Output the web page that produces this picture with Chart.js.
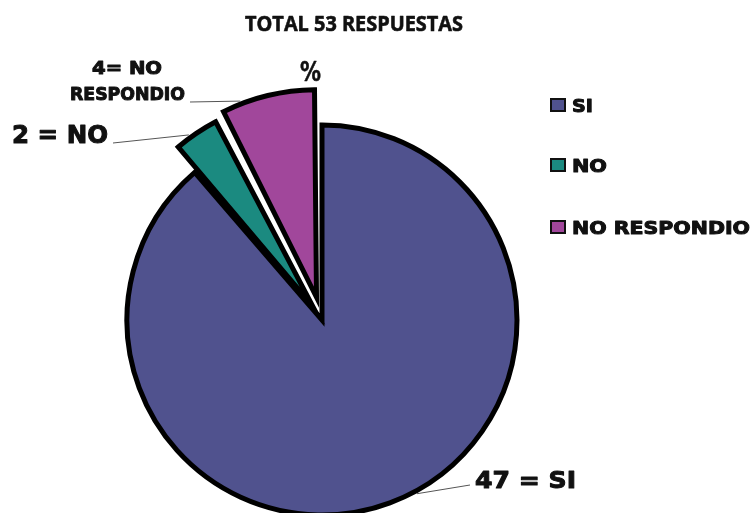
<!DOCTYPE html>
<html>
<head>
<meta charset="utf-8">
<script src="https://cdn.jsdelivr.net/npm/chart.js@4.4.1/dist/chart.umd.min.js"></script>
<style>
  html, body { margin: 0; padding: 0; background: #ffffff; }
  #wrap { width: 754px; height: 513px; }
</style>
</head>
<body>
<div id="wrap"><canvas id="pieChart" width="754" height="513"></canvas></div>
<script>
const categories = ["SI", "NO", "NO RESPONDIO"];
const counts = [47, 2, 4];
const sliceColors = ["#50528e", "#1b8a80", "#a1479b"];
const titleText = "TOTAL 53 RESPUESTAS";
// text next to each slice, one array of lines per slice
const sliceLabels = [["47 = SI"], ["2 = NO"], ["4= NO", "RESPONDIO"]];

// wanted explode distance in px -> chart.js arc offset option
function explode(px, value) {
    const total = counts.reduce((s, v) => s + v, 0);
    const circ = value / total * Math.PI * 2;
    const fix = 1 - Math.sin(Math.min(Math.PI, circ));
    return px * 4 / (1 + fix);
}
const sliceOffsets = [0, explode(30, counts[1]), explode(36, counts[2])];

// text drawn by cap height and stretched to a given width
function fitText(ctx, text, x, y, width, cap, family, capRatio, heavy) {
    ctx.save();
    const size = cap / capRatio;
    ctx.font = "bold " + size + "px " + family;
    const w = ctx.measureText(text).width;
    ctx.translate(x, y);
    ctx.scale(width / w, 1);
    ctx.textAlign = "left";
    ctx.textBaseline = "alphabetic";
    ctx.fillText(text, 0, cap / 2);
    if (heavy) {
        ctx.lineWidth = heavy;
        ctx.strokeStyle = ctx.fillStyle;
        ctx.lineJoin = "round";
        ctx.strokeText(text, 0, cap / 2);
    }
    ctx.restore();
}

function edgePoint(arc, frac, extra) {
    const p = arc.getProps(["x", "y", "startAngle", "endAngle", "outerRadius", "circumference"], true);
    const off = arc.options.offset || 0;
    const shift = off / 4 * (2 - Math.sin(Math.min(Math.PI, p.circumference)));
    const mid = (p.startAngle + p.endAngle) / 2;
    const a = p.startAngle + (p.endAngle - p.startAngle) * frac;
    const r = p.outerRadius + extra;
    return {
        x: p.x + Math.cos(mid) * shift + Math.cos(a) * r,
        y: p.y + Math.sin(mid) * shift + Math.sin(a) * r
    };
}

const annotations = {
    id: "annotations",
    afterDraw(chart) {
        const ctx = chart.ctx;
        const arcs = chart.getDatasetMeta(0).data;
        ctx.save();
        ctx.fillStyle = "#111111";

        // title
        fitText(ctx, titleText, 245, 23, 218, 15, "'Open Sans', sans-serif", 0.714, 0.6);

        // leader lines
        ctx.strokeStyle = "#555555";
        ctx.lineWidth = 1;
        const leaders = [
            { from: { x: 470, y: 485 }, frac: 0.474 },
            { from: { x: 113, y: 143 }, frac: 0.35 },
            { from: { x: 190, y: 102 }, frac: 0.2 }
        ];
        leaders.forEach((l, i) => {
            const to = edgePoint(arcs[i], l.frac, 3);
            ctx.beginPath();
            ctx.moveTo(l.from.x, l.from.y);
            ctx.lineTo(to.x, to.y);
            ctx.stroke();
        });

        ctx.fillStyle = "#111111";
        const bold = "'DejaVu Sans', 'Liberation Sans', sans-serif";
        fitText(ctx, sliceLabels[0][0], 475, 479, 101, 17, bold, 0.73, 1);
        fitText(ctx, sliceLabels[1][0], 12, 134, 96, 18, bold, 0.73, 1);
        fitText(ctx, sliceLabels[2][0], 92, 67, 70, 13, bold, 0.73, 1);
        fitText(ctx, sliceLabels[2][1], 70, 93, 115, 13, bold, 0.73, 1);
        fitText(ctx, "%", 300, 71, 21, 20, bold, 0.73, 0.5);

        // legend
        const legY = [105, 165, 227];
        const legW = [21, 35, 178];
        categories.forEach((c, i) => {
            ctx.fillStyle = sliceColors[i];
            ctx.fillRect(551, legY[i] - 6, 14, 12);
            ctx.strokeStyle = "#111111";
            ctx.lineWidth = 2;
            ctx.strokeRect(551, legY[i] - 6, 14, 12);
            ctx.fillStyle = "#111111";
            fitText(ctx, c, 572, legY[i], legW[i], 13, bold, 0.73, 1);
        });
        ctx.restore();
    }
};

new Chart(document.getElementById("pieChart"), {
    type: "pie",
    data: {
        labels: categories,
        datasets: [{
            data: counts,
            backgroundColor: sliceColors,
            borderColor: "#000000",
            borderWidth: 5,
            borderJoinStyle: "miter",
            offset: sliceOffsets
        }]
    },
    options: {
        responsive: false,
        animation: false,
        radius: 195,
        layout: {
            padding: { left: 0, right: 110, top: 127, bottom: 0 }
        },
        plugins: {
            legend: { display: false },
            title: { display: false },
            tooltip: { enabled: false }
        }
    },
    plugins: [annotations]
});
</script>
</body>
</html>
